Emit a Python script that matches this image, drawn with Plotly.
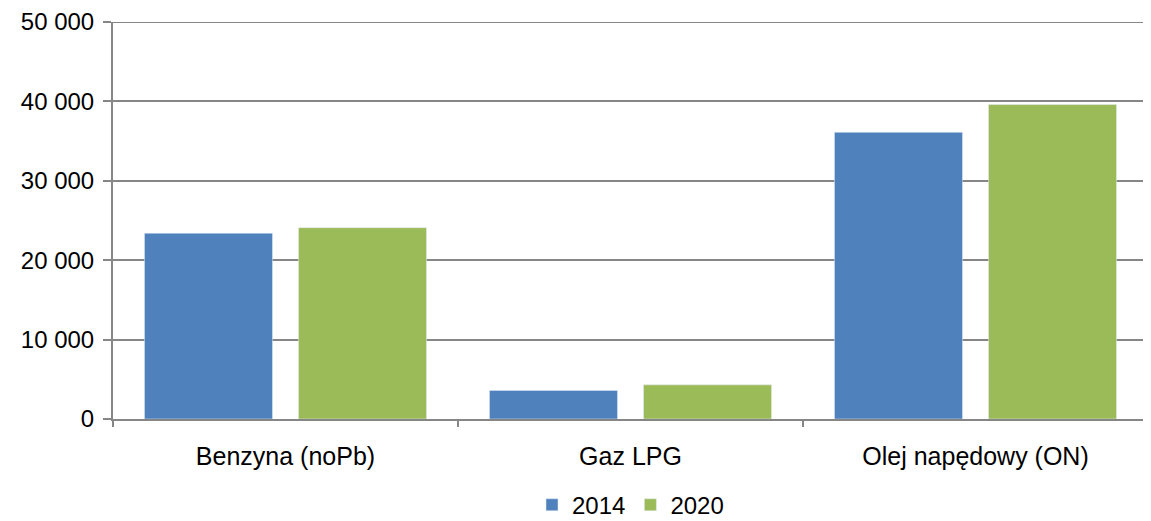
import plotly.graph_objects as go

categories = ["Benzyna (noPb)", "Gaz LPG", "Olej napędowy (ON)"]
values_2014 = [23400, 3600, 36100]
values_2020 = [24100, 4300, 39600]
tick_vals = [0, 10000, 20000, 30000, 40000, 50000]
tick_text = ["0", "10 000", "20 000", "30 000", "40 000", "50 000"]

grey = "#868686"

fig = go.Figure()
fig.add_trace(go.Bar(x=categories, y=values_2014, name="2014", marker_color="#4f81bd"))
fig.add_trace(go.Bar(x=categories, y=values_2020, name="2020", marker_color="#9bbb59"))

# page body has an 8px margin, so the figure is shrunk to fit the window
fig.update_layout(
    width=1143,
    height=513,
    margin=dict(l=105, r=3, t=14, b=102, autoexpand=False),
    plot_bgcolor="white",
    paper_bgcolor="white",
    font=dict(family="Liberation Sans, Arial", size=24, color="black"),
    bargap=0.107,
    bargroupgap=0.169,
    legend=dict(
        orientation="h",
        x=0.5,
        xanchor="center",
        y=-0.217,
        yanchor="middle",
        font=dict(size=24),
        itemwidth=30,
    ),
    showlegend=True,
)
fig.update_xaxes(
    automargin=False,
    showline=True,
    linecolor=grey,
    linewidth=2,
    ticks="outside",
    tickson="boundaries",
    ticklen=6,
    tickcolor=grey,
    tickwidth=2,
    ticklabelstandoff=14,
    tickfont=dict(size=25),
)
fig.update_yaxes(
    automargin=False,
    range=[0, 50001],
    tickvals=tick_vals,
    ticktext=tick_text,
    ticklabeloverflow="allow",
    showgrid=True,
    gridcolor=grey,
    gridwidth=2,
    showline=True,
    linecolor=grey,
    linewidth=2,
    ticks="outside",
    ticklen=8,
    tickcolor=grey,
    tickwidth=2,
    zeroline=False,
    ticklabelstandoff=4,
)
# plotly drops the grid line at the very top edge, so draw it back
fig.add_hline(y=tick_vals[-1], line_color=grey, line_width=2, layer="below")

fig.write_html("out.html")
